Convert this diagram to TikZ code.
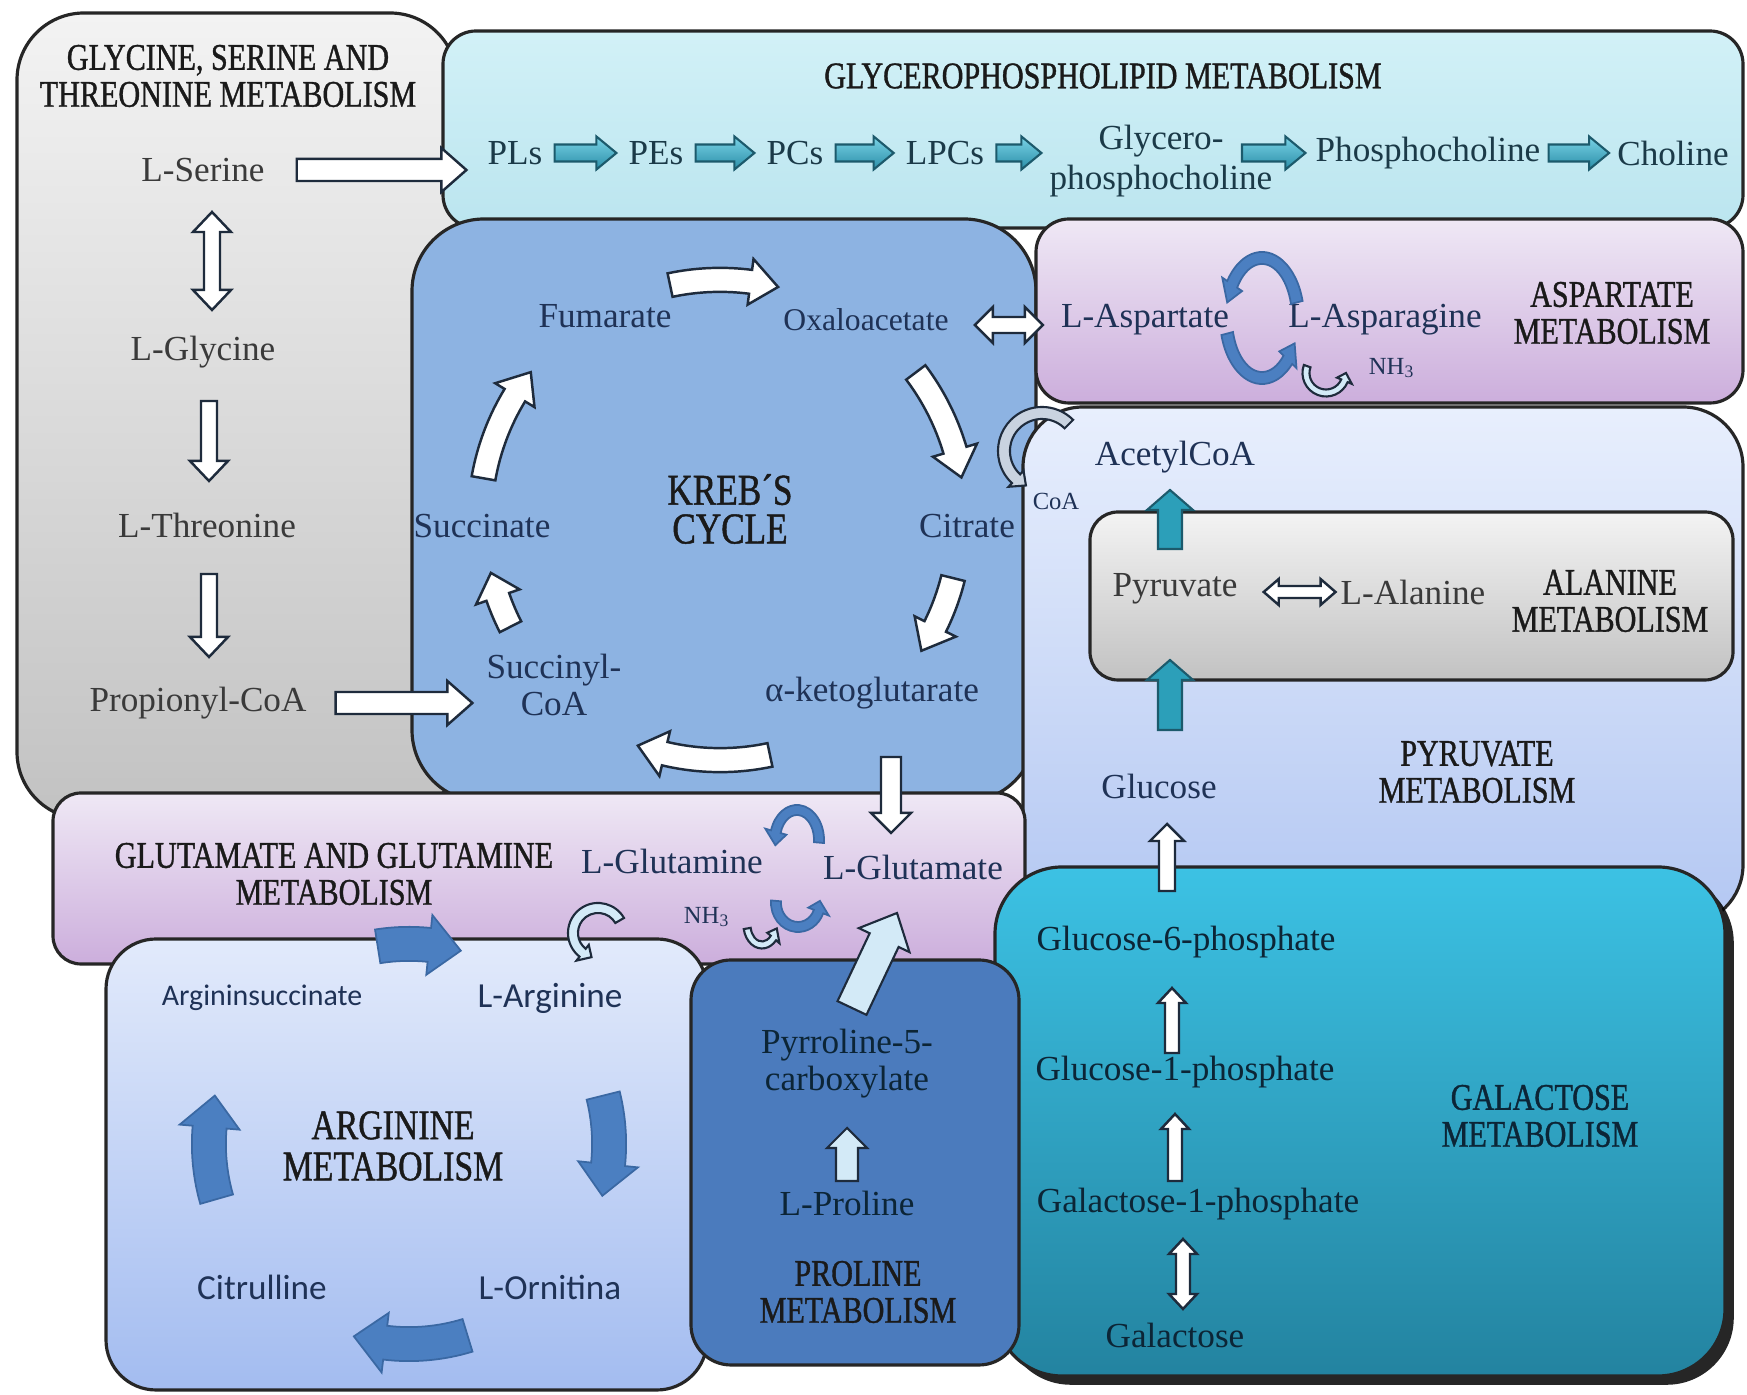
\documentclass[tikz,border=0pt]{standalone}
\usepackage{fontspec}
\setmainfont{Liberation Serif}
\newfontfamily\ttlfont[FakeStretch=0.8, FakeBold=1]{Liberation Serif}
\newfontfamily\cbfont{Carlito}
\usetikzlibrary{calc, shadows}

% colours
\definecolor{glyTop}{HTML}{F3F3F3}
\definecolor{glyBot}{HTML}{C2C2C2}
\definecolor{gplTop}{HTML}{D2F1F7}
\definecolor{gplBot}{HTML}{BBE5EF}
\definecolor{krebFill}{HTML}{8DB3E2}
\definecolor{aspTop}{HTML}{EFE8F5}
\definecolor{aspBot}{HTML}{CCAEDC}
\definecolor{pyrTop}{HTML}{E8EFFD}
\definecolor{pyrBot}{HTML}{B3C7F2}
\definecolor{galTop}{HTML}{3CC2E4}
\definecolor{galBot}{HTML}{2383A0}
\definecolor{argTop}{HTML}{E2EAFB}
\definecolor{argBot}{HTML}{A3BCF0}
\definecolor{proFill}{HTML}{4B7BBD}
\definecolor{inkGrey}{HTML}{3A3A3A}
\definecolor{inkNavy}{HTML}{1F3256}
\definecolor{inkTeal}{HTML}{1B3A48}
\definecolor{inkDeep}{HTML}{0C2536}
\definecolor{titleInk}{HTML}{1A1A1A}
\definecolor{edgeInk}{HTML}{1E2B3C}
\definecolor{tealA}{HTML}{7AD3E6}
\definecolor{tealB}{HTML}{2A8EA8}
\definecolor{tealC}{HTML}{1C5A6C}
\definecolor{tealFill}{HTML}{2C9FB9}
\definecolor{cycBlue}{HTML}{4B7FC1}
\definecolor{cycBlueD}{HTML}{3A68A3}
\definecolor{paleBlue}{HTML}{D3EAF7}
\definecolor{coaGrey}{HTML}{C9D3E0}

\tikzset{
  box/.style={draw=black!85, line width=0.9pt},
  lbl/.style={font=\fontsize{10}{10.5}\selectfont, align=center, inner sep=1pt},
  smalllbl/.style={font=\fontsize{7}{8}\selectfont, inner sep=0.5pt},
  sanslbl/.style={font=\cbfont\fontsize{10}{12}\selectfont, inner sep=1pt},
  ttl/.style={font=\ttlfont\fontsize{10.7}{10.5}\selectfont, align=center, text=titleInk},
  warrow/.style={fill=white, draw=edgeInk, line width=0.7pt},
  tarrow/.style={top color=tealA, bottom color=tealB, draw=tealC, line width=0.6pt},
  parrow/.style={fill=tealFill, draw=tealC, line width=0.6pt},
  larrow/.style={fill=paleBlue, draw=edgeInk, line width=0.6pt},
  barrow/.style={fill=cycBlue, draw=cycBlueD, line width=0.5pt},
  curlarrow/.style={fill=coaGrey, draw=edgeInk, line width=0.6pt},
  % straight block arrow: shaft half width / head half width / head length
  blk/.style args={#1/#2/#3}{to path={%
    ($(\tikztostart)!#1!90:(\tikztotarget)$)
    -- ($(\tikztotarget)!#3!(\tikztostart)!#1!-90:(\tikztostart)$)
    -- ($(\tikztotarget)!#3!(\tikztostart)!#2!-90:(\tikztostart)$)
    -- (\tikztotarget)
    -- ($(\tikztotarget)!#3!(\tikztostart)!#2!90:(\tikztostart)$)
    -- ($(\tikztotarget)!#3!(\tikztostart)!#1!90:(\tikztostart)$)
    -- ($(\tikztostart)!#1!-90:(\tikztotarget)$) -- cycle}},
  dblk/.style args={#1/#2/#3}{to path={%
    (\tikztostart)
    -- ($(\tikztostart)!#3!(\tikztotarget)!#2!90:(\tikztotarget)$)
    -- ($(\tikztostart)!#3!(\tikztotarget)!#1!90:(\tikztotarget)$)
    -- ($(\tikztotarget)!#3!(\tikztostart)!#1!-90:(\tikztostart)$)
    -- ($(\tikztotarget)!#3!(\tikztostart)!#2!-90:(\tikztostart)$)
    -- (\tikztotarget)
    -- ($(\tikztotarget)!#3!(\tikztostart)!#2!90:(\tikztostart)$)
    -- ($(\tikztotarget)!#3!(\tikztostart)!#1!90:(\tikztostart)$)
    -- ($(\tikztostart)!#3!(\tikztotarget)!#1!-90:(\tikztotarget)$)
    -- ($(\tikztostart)!#3!(\tikztotarget)!#2!-90:(\tikztotarget)$)
    -- cycle}},
}

% curved block arrow round a centre:
% style, centre, x radius, y radius, from, to, half shaft, half head, head length (cm)
\newcommand{\cycarrow}[9]{%
  \pgfmathsetmacro{\hb}{#6-ifthenelse(#6>#5,1,-1)*#9/#3*57.3}%
  \pgfmathsetmacro{\oxr}{#3+#7}\pgfmathsetmacro{\oyr}{#4+#7}%
  \pgfmathsetmacro{\ixr}{#3-#7}\pgfmathsetmacro{\iyr}{#4-#7}%
  \pgfmathsetmacro{\hxo}{#3+#8}\pgfmathsetmacro{\hyo}{#4+#8}%
  \pgfmathsetmacro{\hxi}{#3-#8}\pgfmathsetmacro{\hyi}{#4-#8}%
  \draw[#1] ([shift={(#5:\oxr cm and \oyr cm)}]#2)
    arc[start angle=#5, end angle=\hb, x radius=\oxr cm, y radius=\oyr cm]
    -- ([shift={(\hb:\hxo cm and \hyo cm)}]#2)
    -- ([shift={(#6:#3cm and #4cm)}]#2)
    -- ([shift={(\hb:\hxi cm and \hyi cm)}]#2)
    -- ([shift={(\hb:\ixr cm and \iyr cm)}]#2)
    arc[start angle=\hb, end angle=#5, x radius=\ixr cm, y radius=\iyr cm]
    -- cycle;}

\begin{document}
\begin{tikzpicture}[x=0.01cm, y=-0.01cm]
  \useasboundingbox[fill=white] (0,0) rectangle (1747,1395);

  % Boxes
  \draw[box, top color=glyTop, bottom color=glyBot, rounded corners=0.67cm] (17,13) rectangle (457,819);
  \draw[box, top color=gplTop, bottom color=gplBot, rounded corners=0.33cm] (443,31) rectangle (1743,228);
  \draw[box, fill=krebFill, rounded corners=0.72cm] (412,219) rectangle (1036,802);
  \draw[box, top color=pyrTop, bottom color=pyrBot, rounded corners=0.6cm] (1023,407) rectangle (1743,925);
  \draw[box, top color=aspTop, bottom color=aspBot, rounded corners=0.33cm] (1036,219) rectangle (1743,403);
  \draw[box, top color=glyTop, bottom color=glyBot, rounded corners=0.28cm] (1090,512) rectangle (1733,680);
  \draw[box, top color=aspTop, bottom color=aspBot, rounded corners=0.28cm] (53,793) rectangle (1025,964);
  \draw[box, top color=galTop, bottom color=galBot, rounded corners=0.67cm,
        drop shadow={shadow xshift=2.5pt, shadow yshift=-2.5pt, fill=black, opacity=0.85}] (995,867) rectangle (1725,1376);
  \draw[box, top color=argTop, bottom color=argBot, rounded corners=0.5cm] (106,939) rectangle (707,1390);
  \draw[box, fill=proFill, rounded corners=0.4cm] (691,960) rectangle (1019,1365);

  % Glycine, serine and threonine
  \node[ttl] (glyT) at (228,76) {GLYCINE, SERINE AND\\THREONINE METABOLISM};
  \node[lbl, text=inkGrey] (ser) at (203,170) {L-Serine};
  \node[lbl, text=inkGrey] (gly) at (203,352) {L-Glycine};
  \node[lbl, text=inkGrey] (thr) at (207,525) {L-Threonine};
  \node[lbl, text=inkGrey] (ppc) at (198,703) {Propionyl-CoA};

  % Glycerophospholipids
  \node[ttl] (gplT) at (1103,76) {GLYCEROPHOSPHOLIPID METABOLISM};
  \node[lbl, text=inkTeal] (pls) at (515,153) {PLs};
  \node[lbl, text=inkTeal] (pes) at (656,153) {PEs};
  \node[lbl, text=inkTeal] (pcs) at (795,153) {PCs};
  \node[lbl, text=inkTeal] (lpcs) at (945,153) {LPCs};
  \node[lbl, text=inkTeal, font=\fontsize{10}{11.5}\selectfont] (gpc) at (1161,161) {Glycero-\\phosphocholine};
  \node[lbl, text=inkTeal] (phc) at (1428,153) {Phosphocholine};
  \node[lbl, text=inkTeal] (cho) at (1673,153) {Choline};

  % Kreb's cycle
  \coordinate (kc) at (720,520);
  \node[lbl, text=inkNavy] (fum) at (605,316) {Fumarate};
  \node[lbl, text=inkNavy, font=\fontsize{9}{10}\selectfont] (oxa) at (866,320) {Oxaloacetate};
  \node[ttl, font=\ttlfont\fontsize{12.5}{11}\selectfont] (krebT) at (730,509) {KREB´S\\CYCLE};
  \node[lbl, text=inkNavy] (suc) at (482,526) {Succinate};
  \node[lbl, text=inkNavy] (cit) at (967,526) {Citrate};
  \node[lbl, text=inkNavy] (sca) at (554,685) {Succinyl-\\CoA};
  \node[lbl, text=inkNavy] (akg) at (872,693) {α-ketoglutarate};

  % Aspartate
  \coordinate (aspc) at (1262,318);
  \node[lbl, text=inkNavy] (asp) at (1145,320) {L-Aspartate};
  \node[lbl, text=inkNavy] (asn) at (1385,320) {L-Asparagine};
  \node[ttl] (aspT) at (1612,313) {ASPARTATE\\METABOLISM};
  \node[smalllbl, text=inkNavy] (nh3a) at (1392,368) {NH\textsubscript{3}};

  % Pyruvate and alanine
  \node[lbl, text=inkNavy] (acoa) at (1175,457) {AcetylCoA};
  \node[smalllbl, text=inkNavy] (coa) at (1056,501) {CoA};
  \node[lbl, text=inkGrey] (pyr) at (1175,589) {Pyruvate};
  \node[lbl, text=inkGrey] (ala) at (1413,592) {L-Alanine};
  \node[ttl] (alaT) at (1610,601) {ALANINE\\METABOLISM};
  \node[ttl] (pyrT) at (1477,772) {PYRUVATE\\METABOLISM};
  \node[lbl, text=inkNavy] (glc) at (1159,786) {Glucose};

  % Glutamate and glutamine
  \node[ttl] (gluT) at (334,874) {GLUTAMATE AND GLUTAMINE\\METABOLISM};
  \node[lbl, text=inkNavy] (gln) at (672,861) {L-Glutamine};
  \node[lbl, text=inkNavy] (glu) at (913,867) {L-Glutamate};
  \node[smalllbl, text=inkNavy] (nh3g) at (707,917) {NH\textsubscript{3}};

  % Arginine
  \coordinate (argc) at (409,1144);
  \node[sanslbl, text=inkNavy, font=\cbfont\fontsize{8.5}{10}\selectfont] (arsu) at (262,998) {Argininsuccinate};
  \node[sanslbl, text=inkNavy] (arg) at (550,998) {L-Arginine};
  \node[ttl, font=\ttlfont\fontsize{12}{11.7}\selectfont] (argT) at (393,1146) {ARGININE\\METABOLISM};
  \node[sanslbl, text=inkNavy] (ctl) at (262,1287) {Citrulline};
  \node[sanslbl, text=inkNavy] (orn) at (550,1287) {L-Ornitina};

  % Proline
  \node[lbl, text=inkDeep] (p5c) at (847,1064) {Pyrroline-5-\\carboxylate};
  \node[lbl, text=inkDeep] (pro) at (847,1203) {L-Proline};
  \node[ttl] (proT) at (858,1292) {PROLINE\\METABOLISM};

  % Galactose
  \node[lbl, text=inkDeep] (g6p) at (1186,942) {Glucose-6-phosphate};
  \node[lbl, text=inkDeep] (g1p) at (1185,1072) {Glucose-1-phosphate};
  \node[lbl, text=inkDeep] (gal1p) at (1198,1204) {Galactose-1-phosphate};
  \node[lbl, text=inkDeep] (galc) at (1175,1335) {Galactose};
  \node[ttl, text=inkDeep] (galT) at (1540,1116) {GALACTOSE\\METABOLISM};

  % Straight arrows
  \draw[warrow, dblk={0.08cm/0.19cm/0.2cm}] ($(ser)+(9,42)$) to ($(gly)+(9,-42)$);
  \draw[warrow, blk={0.08cm/0.19cm/0.2cm}] ($(gly)+(6,49)$) to ($(thr)+(2,-44)$);
  \draw[warrow, blk={0.08cm/0.19cm/0.2cm}] ($(thr)+(2,49)$) to ($(ppc)+(11,-46)$);
  \draw[warrow, blk={0.11cm/0.22cm/0.25cm}] ($(ser.east)+(28,0)$) to ($(pls.west |- ser.east)+(-17,0)$);
  \draw[warrow, blk={0.11cm/0.22cm/0.25cm}] ($(ppc.east)+(25,0)$) to ($(sca.west |- ppc.east)+(-10,0)$);

  \draw[tarrow, blk={0.085cm/0.165cm/0.2cm}] ($(pls.east)+(8,0)$) to ($(pes.west)+(-8,0)$);
  \draw[tarrow, blk={0.085cm/0.165cm/0.2cm}] ($(pes.east)+(8,0)$) to ($(pcs.west)+(-8,0)$);
  \draw[tarrow, blk={0.085cm/0.165cm/0.2cm}] ($(pcs.east)+(8,0)$) to ($(lpcs.west)+(-8,0)$);
  \draw[tarrow, blk={0.085cm/0.165cm/0.2cm}] ($(lpcs.east)+(8,0)$) to ($(gpc.west |- lpcs.east)+(-4,0)$);
  \draw[tarrow, blk={0.085cm/0.165cm/0.2cm}] ($(gpc)+(81,-8)$) to ($(phc.west)+(-6,0)$);
  \draw[tarrow, blk={0.085cm/0.165cm/0.2cm}] ($(phc.east)+(4,0)$) to ($(cho.west)+(-4,0)$);

  \draw[warrow, dblk={0.08cm/0.18cm/0.18cm}] ($(oxa.east)+(22,5)$) to ($(asp.west |- oxa.east)+(-14,5)$);
  \draw[warrow, dblk={0.06cm/0.13cm/0.15cm}] ($(pyr.east)+(22,3)$) to ($(ala.west |- pyr.east)+(-1,3)$);
  \draw[parrow, blk={0.12cm/0.23cm/0.2cm}] ($(pyr)+(-5,-40)$) to ($(acoa)+(-5,33)$);
  \draw[parrow, blk={0.12cm/0.23cm/0.2cm}] ($(glc)+(11,-56)$) to ($(pyr)+(-5,71)$);
  \draw[warrow, blk={0.08cm/0.17cm/0.17cm}] ($(g6p)+(-19,-51)$) to ($(glc)+(8,38)$);
  \draw[warrow, blk={0.07cm/0.14cm/0.15cm}] ($(g1p)+(-13,-19)$) to ($(g6p)+(-14,46)$);
  \draw[warrow, blk={0.07cm/0.14cm/0.15cm}] ($(gal1p)+(-23,-23)$) to ($(g1p)+(-10,42)$);
  \draw[warrow, dblk={0.07cm/0.14cm/0.15cm}] ($(galc)+(8,-26)$) to ($(gal1p)+(-15,35)$);

  \draw[warrow, blk={0.1cm/0.2cm/0.2cm}] ($(akg)+(19,64)$) to ($(glu)+(-22,-34)$);
  \draw[larrow, blk={0.16cm/0.28cm/0.3cm}] ($(p5c)+(5,-56)$) to ($(glu)+(-16,46)$);
  \draw[larrow, blk={0.11cm/0.2cm/0.2cm}] ($(pro)+(0,-22)$) to ($(p5c)+(0,64)$);

  % Kreb's cycle arrows
  \cycarrow{warrow}{kc}{2.4}{2.4}{102}{76}{0.12}{0.23}{0.28}
  \cycarrow{warrow}{kc}{2.45}{2.45}{37}{10}{0.12}{0.23}{0.28}
  \cycarrow{warrow}{kc}{2.4}{2.4}{-14}{-33}{0.12}{0.23}{0.28}
  \cycarrow{warrow}{kc}{2.4}{2.4}{-78}{-110}{0.12}{0.23}{0.28}
  \cycarrow{warrow}{kc}{2.35}{2.35}{-153}{-167}{0.12}{0.23}{0.25}
  \cycarrow{warrow}{kc}{2.4}{2.4}{170}{142}{0.12}{0.23}{0.28}

  % Arginine cycle arrows
  \cycarrow{barrow}{argc}{2.0}{2.0}{196}{166}{0.17}{0.3}{0.32}
  \cycarrow{barrow}{argc}{2.0}{2.0}{99}{75}{0.17}{0.3}{0.32}
  \cycarrow{barrow}{argc}{2.0}{2.0}{14}{-15}{0.17}{0.3}{0.32}
  \cycarrow{barrow}{argc}{2.0}{2.0}{-73}{-106}{0.17}{0.3}{0.32}

  % Curls
  \cycarrow{barrow}{aspc}{0.36}{0.6}{15}{165}{0.06}{0.12}{0.12}
  \cycarrow{barrow}{aspc}{0.36}{0.6}{195}{335}{0.06}{0.12}{0.12}
  \coordinate (aspcurl) at (1326,373);
  \cycarrow{larrow}{aspcurl}{0.2}{0.2}{160}{360}{0.035}{0.08}{0.08}
  \coordinate (coac) at (1042,451);
  \cycarrow{curlarrow}{coac}{0.38}{0.38}{45}{245}{0.06}{0.11}{0.12}
  \coordinate (glc1) at (797,840);
  \cycarrow{barrow}{glc1}{0.22}{0.3}{-5}{190}{0.05}{0.11}{0.1}
  \coordinate (glc3) at (762,925);
  \cycarrow{larrow}{glc3}{0.15}{0.2}{190}{350}{0.035}{0.08}{0.08}
  \coordinate (glc2) at (798,903);
  \cycarrow{barrow}{glc2}{0.22}{0.24}{175}{365}{0.05}{0.11}{0.1}
  \coordinate (argcurl) at (598,933);
  \cycarrow{larrow}{argcurl}{0.25}{0.25}{30}{255}{0.05}{0.1}{0.1}
\end{tikzpicture}
\end{document}
